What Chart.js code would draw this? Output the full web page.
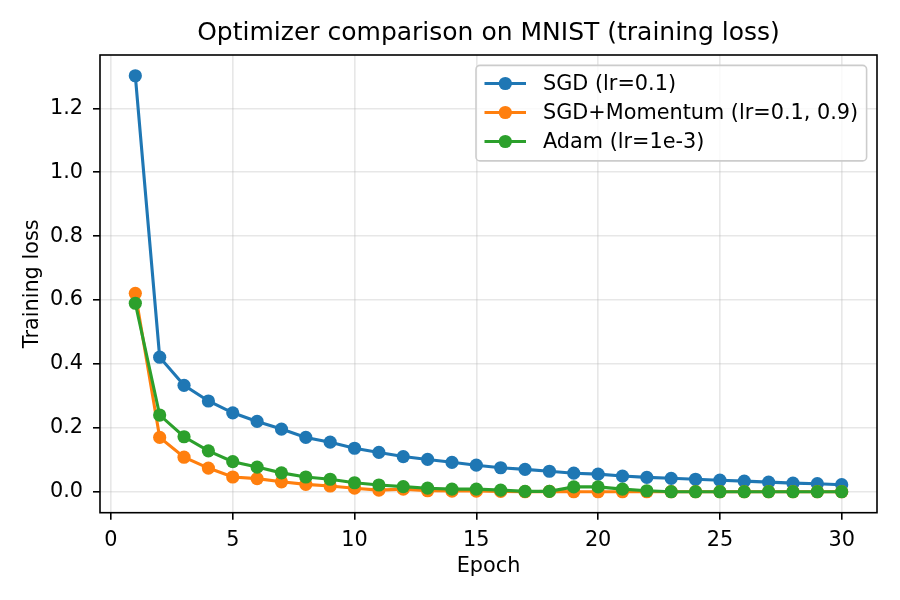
<!DOCTYPE html>
<html>
<head>
<meta charset="utf-8">
<script src="https://cdn.jsdelivr.net/npm/chart.js@4.4.1/dist/chart.umd.min.js"></script>
<style>
  body { margin: 0; background: #fff; }
  canvas { display: block; }
</style>
</head>
<body>
<canvas id="grafico" width="900" height="600"></canvas>
<script>
// Datos
const epochs = [1, 2, 3, 4, 5, 6, 7, 8, 9, 10, 11, 12, 13, 14, 15, 16, 17, 18, 19, 20, 21, 22, 23, 24, 25, 26, 27, 28, 29, 30];
const sgd = [1.302, 0.421, 0.333, 0.284, 0.247, 0.220, 0.196, 0.170, 0.155, 0.136, 0.123, 0.110, 0.101, 0.092, 0.083, 0.075, 0.070, 0.064, 0.058, 0.055, 0.049, 0.045, 0.042, 0.039, 0.036, 0.033, 0.030, 0.027, 0.025, 0.022];
const momentum = [0.621, 0.170, 0.108, 0.074, 0.046, 0.041, 0.031, 0.023, 0.018, 0.011, 0.005, 0.008, 0.003, 0.002, 0.002, 0.001, 0.000, 0.001, 0.000, 0.000, 0.000, 0.000, 0.000, 0.000, 0.000, 0.000, 0.000, 0.000, 0.000, 0.000];
const adam = [0.590, 0.240, 0.172, 0.128, 0.094, 0.077, 0.059, 0.046, 0.039, 0.028, 0.021, 0.016, 0.011, 0.008, 0.008, 0.005, 0.001, 0.001, 0.015, 0.015, 0.008, 0.003, 0.000, 0.000, 0.000, 0.000, 0.000, 0.000, 0.000, 0.000];
const seriesLabels = ['SGD (lr=0.1)', 'SGD+Momentum (lr=0.1, 0.9)', 'Adam (lr=1e-3)'];
const xTicks = [0, 5, 10, 15, 20, 25, 30];
const yTicks = [0, 0.2, 0.4, 0.6, 0.8, 1.0, 1.2];
const yTickLabels = ['0.0', '0.2', '0.4', '0.6', '0.8', '1.0', '1.2'];

const colores = ['#1f77b4', '#ff7f0e', '#2ca02c'];
const fuente = 'DejaVu Sans';

Chart.defaults.font.family = fuente;
Chart.defaults.color = '#000';

function puntos(valores) {
    return epochs.map((e, i) => ({ x: e, y: valores[i] }));
}

function serie(i, valores) {
    return {
        label: seriesLabels[i],
        data: puntos(valores),
        borderColor: colores[i],
        backgroundColor: colores[i],
        pointBackgroundColor: colores[i],
        pointBorderWidth: 0,
        pointRadius: 6.6,
        borderWidth: 3.1,
        tension: 0,
        order: 3 - i, // Adam queda arriba, como en matplotlib
        clip: false
    };
}

// Plugin: título, marco y leyenda dentro del área
const extras = {
    id: 'extras',
    afterDraw(chart) {
        const ctx = chart.ctx;
        const a = chart.chartArea;
        ctx.save();
        // marco
        ctx.strokeStyle = '#000';
        ctx.lineWidth = 1.6;
        ctx.strokeRect(a.left, a.top, a.right - a.left, a.bottom - a.top);
        // título
        ctx.fillStyle = '#000';
        ctx.font = '25px "' + fuente + '"';
        ctx.textAlign = 'center';
        ctx.textBaseline = 'middle';
        ctx.fillText('Optimizer comparison on MNIST (training loss)', (a.left + a.right) / 2, 33);
        // leyenda
        const x0 = 476, y0 = 65.4, w = 390.6, h = 95.5;
        ctx.beginPath();
        ctx.roundRect(x0, y0, w, h, 4);
        ctx.fillStyle = 'rgba(255,255,255,0.8)';
        ctx.fill();
        ctx.strokeStyle = '#cccccc';
        ctx.lineWidth = 1.6;
        ctx.stroke();
        ctx.font = '20.8px "' + fuente + '"';
        ctx.textAlign = 'left';
        const filas = [83.5, 112.5, 141.5];
        chart.data.datasets.forEach((ds, i) => {
            const y = filas[i];
            ctx.strokeStyle = ds.borderColor;
            ctx.lineWidth = 3.1;
            ctx.beginPath();
            ctx.moveTo(484.5, y);
            ctx.lineTo(526, y);
            ctx.stroke();
            ctx.fillStyle = ds.borderColor;
            ctx.beginPath();
            ctx.arc(505.3, y, 6.6, 0, Math.PI * 2);
            ctx.fill();
            ctx.fillStyle = '#000';
            ctx.fillText(ds.label, 543, y + 1);
        });
        ctx.restore();
    }
};

const ctx = document.getElementById('grafico').getContext('2d');
const miGrafico = new Chart(ctx, {
    type: 'line',
    data: {
        datasets: [serie(0, sgd), serie(1, momentum), serie(2, adam)]
    },
    options: {
        responsive: false,
        animation: false,
        devicePixelRatio: 1,
        layout: { padding: { left: 0, right: 23, top: 55, bottom: 0 } },
        plugins: {
            legend: { display: false },
            tooltip: { enabled: false }
        },
        scales: {
            x: {
                type: 'linear',
                min: -0.45,
                max: 31.45,
                afterBuildTicks: s => { s.ticks = xTicks.map(v => ({ value: v })); },
                afterFit: s => { s.height = 87.3; },
                grid: { color: 'rgba(176,176,176,0.3)', lineWidth: 1.6, tickColor: '#000', tickLength: 7, tickWidth: 1.6 },
                border: { display: false },
                ticks: { font: { size: 20.8 }, padding: 8, maxRotation: 0, callback: v => String(v) },
                title: { display: true, text: 'Epoch', font: { size: 20.8 }, padding: { top: 0, bottom: 20.5 } }
            },
            y: {
                min: -0.0657,
                max: 1.367,
                afterBuildTicks: s => { s.ticks = yTicks.map(v => ({ value: v })); },
                afterFit: s => { s.width = 100; },
                grid: { color: 'rgba(176,176,176,0.3)', lineWidth: 1.6, tickColor: '#000', tickLength: 7, tickWidth: 1.6 },
                border: { display: false },
                ticks: {
                    font: { size: 20.8 },
                    padding: 10,
                    callback: (v, i) => yTickLabels[i]
                },
                title: { display: true, text: 'Training loss', font: { size: 20.8 }, padding: { top: 20.5, bottom: 0 } }
            }
        }
    },
    plugins: [extras]
});
</script>
</body>
</html>
